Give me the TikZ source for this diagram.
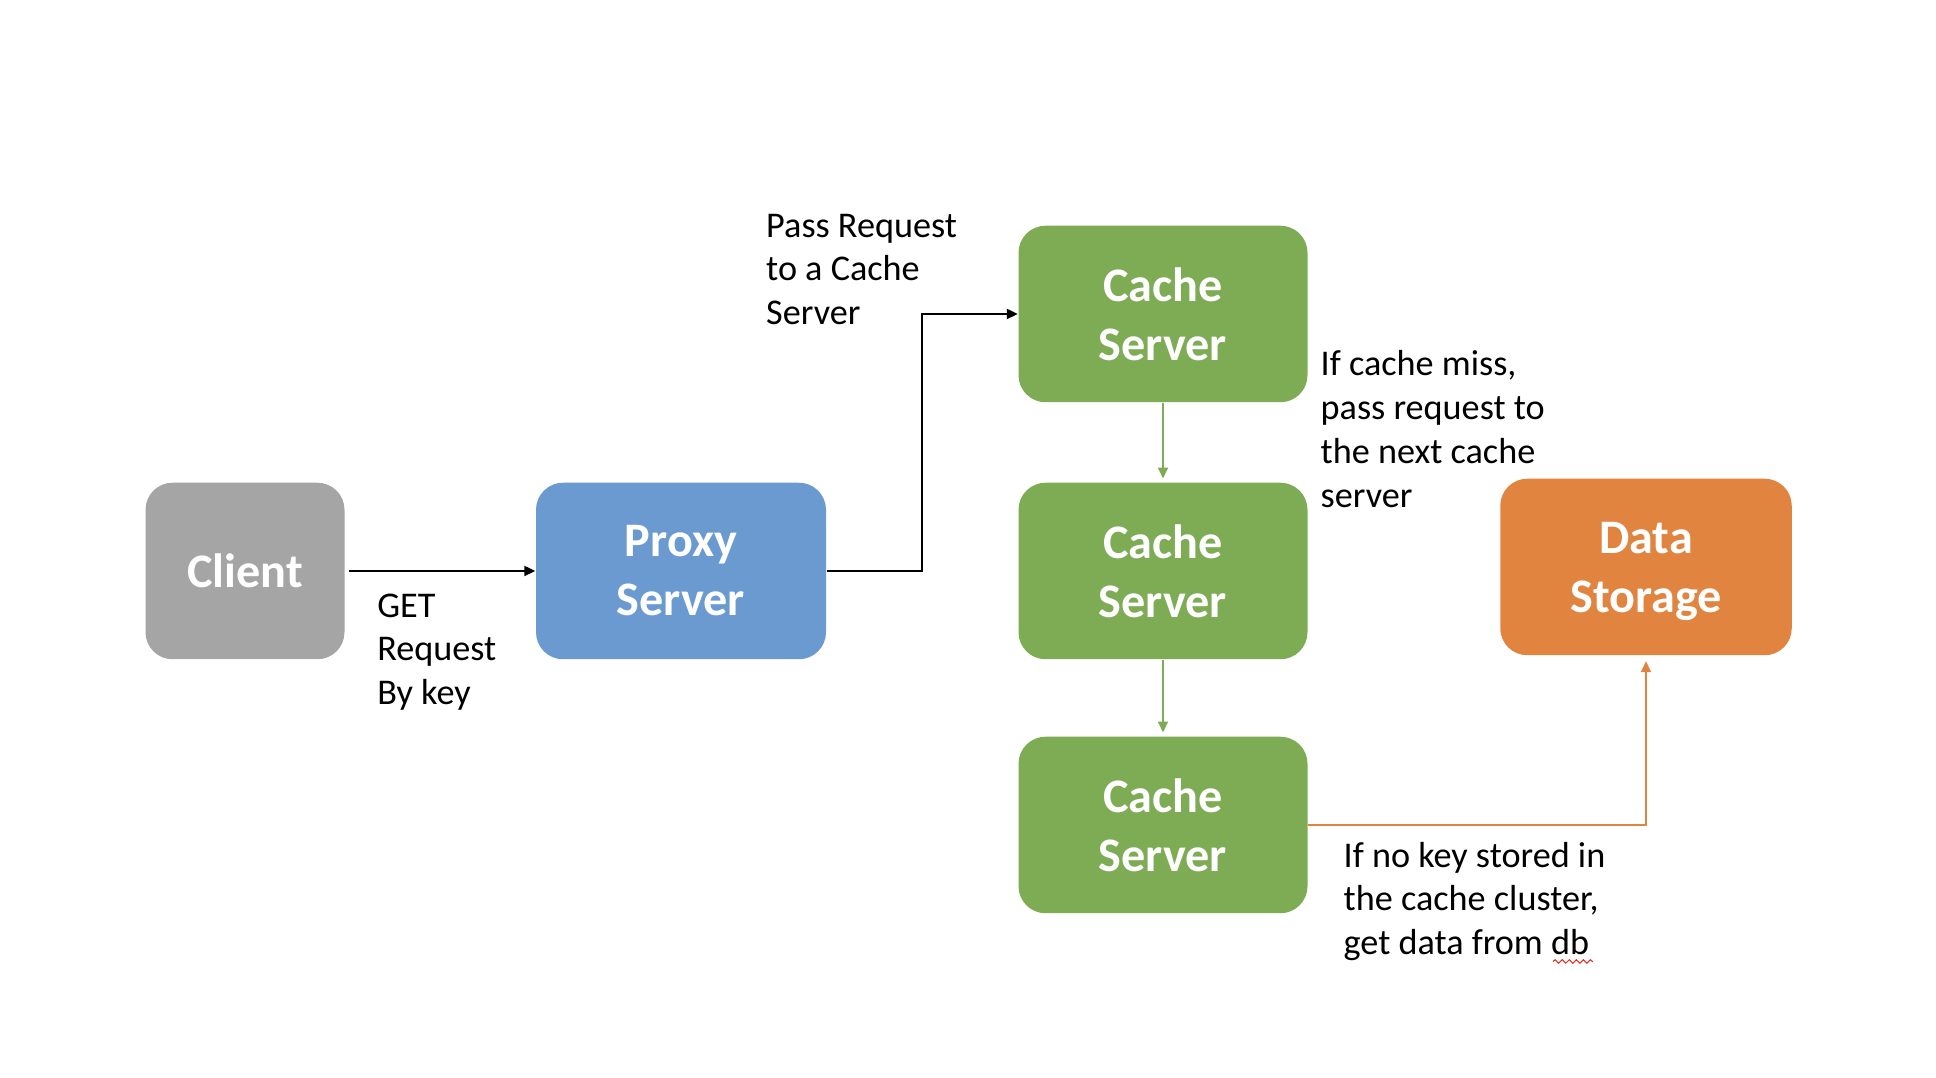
\documentclass[tikz,border=0pt]{standalone}
\usepackage{fontspec}
\setmainfont{Carlito}
\usetikzlibrary{arrows.meta,decorations.pathmorphing}

\definecolor{clientgray}{HTML}{A5A5A5}
\definecolor{proxyblue}{HTML}{6A9AD0}
\definecolor{cachegreen}{HTML}{7EAC55}
\definecolor{storeorange}{HTML}{E0843F}
\definecolor{spellred}{HTML}{E03020}

\begin{document}
\begin{tikzpicture}[
	box/.style={rounded corners=0.27cm, inner sep=0pt, minimum height=1.765cm, text=white, align=center, font=\fontsize{13.7}{16.8}\selectfont\bfseries},
	note/.style={anchor=west, align=left, inner sep=0pt, font=\fontsize{10.3}{12.45}\selectfont},
	link/.style={line width=0.6pt, -{Triangle[length=0.11cm,width=0.1cm]}},
	wavy/.style={spellred, line width=0.3pt, decorate, decoration={snake, amplitude=0.5pt, segment length=2pt}},
	]
	\useasboundingbox (0,0) rectangle (19.36,-10.78);

	\node[box, fill=clientgray, minimum width=1.99cm] (client) at (2.45,-5.71) {Client};
	\node[box, fill=proxyblue, minimum width=2.90cm] (proxy) at (6.81,-5.71) {Proxy\\Server};
	\node[box, fill=cachegreen, minimum width=2.89cm] (cache1) at (11.63,-3.14) {Cache\\Server};
	\node[box, fill=cachegreen, minimum width=2.89cm] (cache2) at (11.63,-5.71) {Cache\\Server};
	\node[box, fill=cachegreen, minimum width=2.89cm] (cache3) at (11.63,-8.25) {Cache\\Server};
	\node[box, fill=storeorange, minimum width=2.915cm] (store) at (16.46,-5.67) {Data\\\raisebox{0pt}[\height][0pt]{Storage}};

	\coordinate (turn) at (9.22,-3.14);

	\draw [link, shorten <=1pt] (client.east) -- (proxy.west);
	\draw [link] (proxy.east) -| (turn) -- (cache1.west);
	\draw [link, cachegreen, line width=0.5pt, shorten >=1pt] (cache1.south) -- (cache2.north);
	\draw [link, cachegreen, line width=0.5pt, shorten >=1pt] (cache2.south) -- (cache3.north);
	\draw [link, storeorange, line width=0.5pt, shorten >=1.5pt] (cache3.east) -| (store.south);

	\node[note] (getnote) at (3.766,-6.52) {GET\\Request\\By key};
	\node[note] (passnote) at (7.655,-2.695) {Pass Request\\to a Cache\\Server};
	\node[note] (missnote) at (13.20,-4.29) {If cache miss,\\pass request to\\the next cache\\server};
	\node[note] (dbnote) at (13.43,-9.015) {If no key stored in\\the cache cluster,\\get data from db};

	\coordinate (waveA) at (15.53,-9.615);
	\coordinate (waveB) at (15.93,-9.615);
	\draw [wavy] (waveA) -- (waveB);

\end{tikzpicture}
\end{document}
